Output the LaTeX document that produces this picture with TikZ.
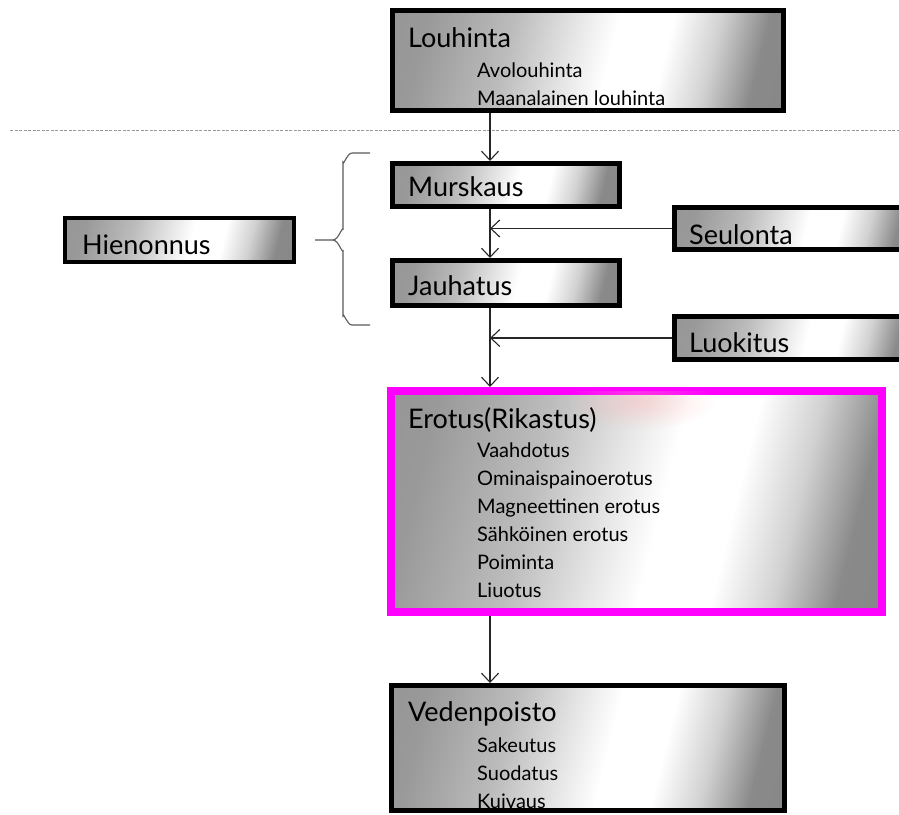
\documentclass[tikz,border=0pt]{standalone}
\usepackage{fontspec}
\setmainfont{Lato}
\usetikzlibrary{arrows.meta,fadings}
\definecolor{mag}{RGB}{255,0,255}
\tikzfading[name=pinkfade, inner color=transparent!0, outer color=transparent!100]
\pgfdeclarehorizontalshading{boxshade}{100bp}{color(0bp)=(black!45); color(25bp)=(black!40); color(38bp)=(black!26); color(47bp)=(black!10); color(53bp)=(white); color(61bp)=(white); color(68bp)=(black!18); color(75bp)=(black!46); color(100bp)=(black!50)}
\tikzset{
  box/.style={draw=black, line width=5pt, shade, shading=boxshade, shading angle=-14, inner sep=0pt},
  ttl/.style={anchor=base west, font=\fontsize{27}{31}\selectfont, inner sep=0pt},
  itm/.style={anchor=base west, font=\fontsize{20}{24}\selectfont, inner sep=0pt},
  arr/.style={draw=black!85, line width=1.1pt, -{Straight Barb[length=9pt,width=17pt,line width=1.1pt]}},
  brc/.style={draw=black!65, line width=1.1pt},
}
\begin{document}
\begin{tikzpicture}[x=1pt,y=-1pt]
\useasboundingbox (0,0) rectangle (899,814);
% dashed separator
\coordinate (dl) at (10,130);
\coordinate (dr) at (899,130);
\draw[black!40, line width=1pt, dash pattern=on 3pt off 1.5pt] (dl) -- (dr);
% boxes
\node[box, minimum width=391pt, minimum height=100pt] (louhinta) at (588,60.5) {};
\node[box, minimum width=227pt, minimum height=43pt] (murskaus) at (506,185) {};
\node[box, minimum width=227pt, minimum height=45pt] (jauhatus) at (506,283) {};
\node[box, minimum width=240pt, minimum height=42pt] (seulonta) at (794.5,228.5) {};
\node[box, minimum width=240pt, minimum height=43pt] (luokitus) at (794.5,338) {};
\node[box, line width=4pt, minimum width=229pt, minimum height=44pt] (hienonnus) at (179.5,240) {};
\node[box, draw=mag, line width=8pt, minimum width=491pt, minimum height=221pt] (erotus) at (636.5,501.5) {};
\begin{scope}
  \clip (391,391) rectangle (882,612);
  \fill[red!30, path fading=pinkfade, opacity=0.4] (640,402) ellipse (75 and 28);
\end{scope}
\node[box, minimum width=393pt, minimum height=125pt] (vedenpoisto) at (588,748) {};
% texts
\node[ttl] (t1) at (408,47) {Louhinta};
\node[itm] (t1a) at (477,77) {Avolouhinta};
\node[itm] (t1b) at (477,105) {Maanalainen louhinta};
\node[ttl] (t2) at (408,196) {Murskaus};
\node[ttl] (t3) at (408,295) {Jauhatus};
\node[ttl] (t4) at (689,244) {Seulonta};
\node[ttl] (t5) at (689,352) {Luokitus};
\node[ttl] (t6) at (82,254) {Hienonnus};
\node[ttl] (t7) at (408,428) {Erotus(Rikastus)};
\node[itm] (t7a) at (477,457) {Vaahdotus};
\node[itm] (t7b) at (477,485) {Ominaispainoerotus};
\node[itm] (t7c) at (477,513) {Magneettinen erotus};
\node[itm] (t7d) at (477,541) {Sähköinen erotus};
\node[itm] (t7e) at (477,569) {Poiminta};
\node[itm] (t7f) at (477,597) {Liuotus};
\node[ttl] (t8) at (408,721) {Vedenpoisto};
\node[itm] (t8a) at (477,752) {Sakeutus};
\node[itm] (t8b) at (477,780) {Suodatus};
\node[itm] (t8c) at (477,808) {Kuivaus};
% spine connectors
\coordinate (sp) at (490,0);
\draw[arr] (louhinta.south -| sp) -- (murskaus.north -| sp);
\draw[arr] (murskaus.south -| sp) -- (jauhatus.north -| sp);
\draw[arr] (jauhatus.south -| sp) -- (erotus.north -| sp);
\draw[arr] (erotus.south -| sp) -- (vedenpoisto.north -| sp);
\draw[arr] (seulonta.west) -- (seulonta.west -| sp);
\draw[arr] (luokitus.west) -- (luokitus.west -| sp);
% brace
\coordinate (bt) at (370,153);
\coordinate (bb) at (370,325);
\coordinate (bp) at (315,240);
\draw[brc] (bt) -- (352,153) to[out=180,in=-90] (343,162) -- (343,230)
  to[out=90,in=0] (333,240) -- (bp);
\draw[brc] (333,240) to[out=0,in=-90] (343,250) -- (343,316)
  to[out=90,in=180] (352,325) -- (bb);
\end{tikzpicture}
\end{document}
